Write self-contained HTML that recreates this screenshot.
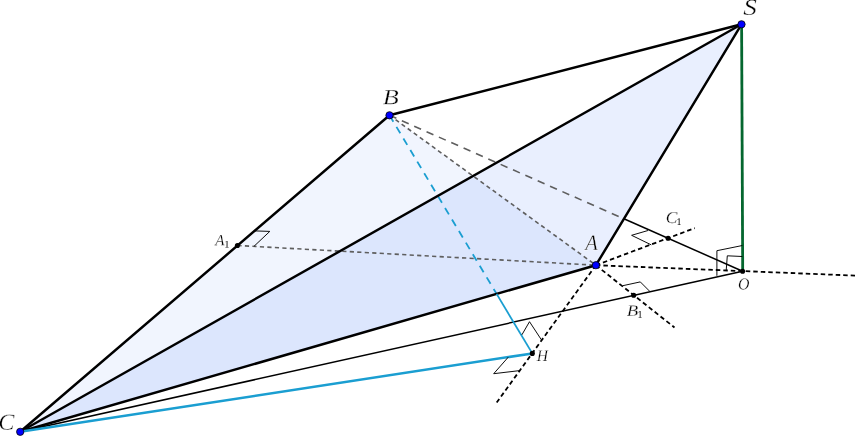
<!DOCTYPE html>
<html><head><meta charset="utf-8"><title>Figure</title>
<style>
html,body{margin:0;padding:0;background:#fff;}
body{width:855px;height:436px;overflow:hidden;}
svg{display:block;will-change:transform;}
text{font-family:"Liberation Serif","DejaVu Serif",serif;fill:#000;text-rendering:geometricPrecision;stroke:#fff;stroke-width:0.3px;}
text.sub{stroke:none;}
</style></head><body>
<svg width="855" height="436" viewBox="0 0 855 436">
<rect width="855" height="436" fill="#fff"/>
<polygon points="595.9,265.2 389.5,115.3 20.2,431.8" fill="#2f6af4" fill-opacity="0.065"/>
<polygon points="741.5,24.3 595.9,265.2 20.2,431.8" fill="#2f6af4" fill-opacity="0.105"/>
<line x1="389.5" y1="115.3" x2="595.9" y2="265.2" stroke="#5e5e5e" stroke-width="1.6" stroke-dasharray="4.2 3.3"/>
<line x1="237.4" y1="245.5" x2="595.9" y2="265.2" stroke="#5e5e5e" stroke-width="1.6" stroke-dasharray="4.2 3.3"/>
<line x1="389.5" y1="115.3" x2="623.9" y2="218.8" stroke="#5e5e5e" stroke-width="1.6" stroke-dasharray="7.5 6"/>
<line x1="389.5" y1="115.3" x2="496.6" y2="293.9" stroke="#1a9ed1" stroke-width="1.8" stroke-dasharray="7.5 6"/>
<line x1="20.2" y1="431.8" x2="742.6" y2="271.2" stroke="#000" stroke-width="1.5"/>
<line x1="623.9" y1="218.8" x2="742.6" y2="271.2" stroke="#000" stroke-width="1.5"/>
<line x1="595.9" y1="265.2" x2="855.0" y2="275.6" stroke="#000" stroke-width="1.8" stroke-dasharray="4.5 3"/>
<line x1="595.9" y1="265.2" x2="694.8" y2="228.1" stroke="#000" stroke-width="1.8" stroke-dasharray="4.5 3"/>
<line x1="595.9" y1="265.2" x2="674.5" y2="327.5" stroke="#000" stroke-width="1.8" stroke-dasharray="4.5 3"/>
<line x1="595.9" y1="265.2" x2="496.7" y2="402.5" stroke="#000" stroke-width="1.8" stroke-dasharray="4.5 3"/>
<line x1="389.5" y1="115.3" x2="741.5" y2="24.3" stroke="#000" stroke-width="2.45" stroke-linecap="round"/>
<line x1="741.5" y1="24.3" x2="20.2" y2="431.8" stroke="#000" stroke-width="2.45" stroke-linecap="round"/>
<line x1="741.5" y1="24.3" x2="595.9" y2="265.2" stroke="#000" stroke-width="2.45" stroke-linecap="round"/>
<line x1="20.2" y1="431.8" x2="595.9" y2="265.2" stroke="#000" stroke-width="2.45" stroke-linecap="round"/>
<line x1="389.5" y1="115.3" x2="20.2" y2="431.8" stroke="#000" stroke-width="2.45" stroke-linecap="round"/>
<line x1="741.6" y1="24.3" x2="742.7" y2="271.2" stroke="#05672f" stroke-width="2.8"/>
<line x1="496.6" y1="293.9" x2="532.3" y2="353.4" stroke="#1a9ed1" stroke-width="1.8"/>
<line x1="20.2" y1="431.8" x2="532.3" y2="353.4" stroke="#1a9ed1" stroke-width="2.5"/>
<polyline points="716.9,275.8 716.9,250.7 742.4,245.5" fill="none" stroke="#000" stroke-width="0.95"/>
<polyline points="726.2,270.4 727.3,255.8 742.4,256.5" fill="none" stroke="#000" stroke-width="0.95"/>
<polyline points="648.0,230.5 631.6,235.3 651.3,244.9" fill="none" stroke="#000" stroke-width="0.95"/>
<polyline points="622.8,285.7 640.3,281.9 649.9,291.5" fill="none" stroke="#000" stroke-width="0.95"/>
<polyline points="521.9,334.8 529.5,321.7 541.4,339.8" fill="none" stroke="#000" stroke-width="0.95"/>
<polyline points="508.3,357.1 493.7,373.7 519.7,370.6" fill="none" stroke="#000" stroke-width="0.95"/>
<polyline points="254.8,230.9 269.8,231.4 254.0,246.3" fill="none" stroke="#000" stroke-width="0.95"/>
<circle cx="741.5" cy="24.3" r="3.65" fill="#0000ff" stroke="#000" stroke-width="0.8"/>
<circle cx="389.5" cy="115.3" r="3.65" fill="#0000ff" stroke="#000" stroke-width="0.8"/>
<circle cx="20.2" cy="431.8" r="3.65" fill="#0000ff" stroke="#000" stroke-width="0.8"/>
<circle cx="595.9" cy="265.2" r="3.65" fill="#0000ff" stroke="#000" stroke-width="0.8"/>
<circle cx="742.6" cy="271.2" r="2.55" fill="#000"/>
<circle cx="532.3" cy="353.4" r="2.55" fill="#000"/>
<circle cx="237.4" cy="245.5" r="2.55" fill="#000"/>
<circle cx="633.7" cy="295.3" r="2.55" fill="#000"/>
<circle cx="668.1" cy="238.2" r="2.55" fill="#000"/>
<text transform="matrix(1.3579 0.002 -0.002 1.1418 743.13 14.67)" font-size="20" font-style="italic">S</text>
<text transform="matrix(1.3103 0.002 -0.002 1.0840 382.84 104.30)" font-size="20" font-style="italic">B</text>
<text transform="matrix(1.2097 0.002 -0.002 1.1567 -1.73 429.77)" font-size="20" font-style="italic">C</text>
<text transform="matrix(1.0299 0.002 -0.002 1.1069 585.33 250.00)" font-size="20" font-style="italic">A</text>
<text transform="matrix(0.7923 0.002 -0.002 0.8433 738.01 289.43)" font-size="20" font-style="italic">O</text>
<text transform="matrix(0.7806 0.002 -0.002 0.8092 536.76 360.90)" font-size="20" font-style="italic">H</text>
<text transform="matrix(0.7537 0.002 -0.002 0.7863 215.23 245.30)" font-size="20" font-style="italic">A</text>
<text class="sub" transform="matrix(0.5286 0.002 -0.002 0.4962 224.35 247.50)" font-size="20" font-style="normal">1</text>
<text transform="matrix(0.8710 0.002 -0.002 0.8284 665.64 223.03)" font-size="20" font-style="italic">C</text>
<text class="sub" transform="matrix(0.5000 0.002 -0.002 0.5115 676.50 224.90)" font-size="20" font-style="normal">1</text>
<text transform="matrix(0.9397 0.002 -0.002 0.7863 626.81 315.80)" font-size="20" font-style="italic">B</text>
<text class="sub" transform="matrix(0.5000 0.002 -0.002 0.5115 637.40 317.70)" font-size="20" font-style="normal">1</text>
</svg>
</body></html>
